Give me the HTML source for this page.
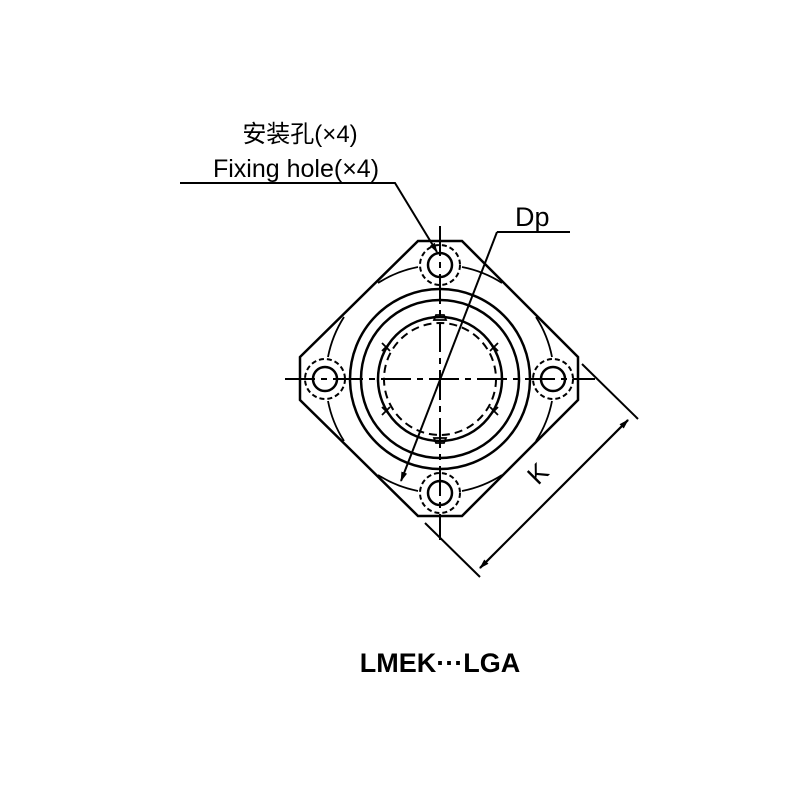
<!DOCTYPE html>
<html><head><meta charset="utf-8"><style>
html,body{margin:0;padding:0;background:#fff;}
svg{display:block;}
</style></head><body>
<svg width="800" height="800" viewBox="0 0 800 800" xmlns="http://www.w3.org/2000/svg">
<defs><marker id="ar" markerWidth="10" markerHeight="6" refX="9" refY="3" orient="auto" markerUnits="userSpaceOnUse"><path d="M0,0 L10,3 L0,6 z" fill="#000"/></marker></defs>
<g fill="none" stroke="#000" stroke-width="2.5">
<polygon points="418,241 462,241 578,357 578,400 462,516 418,516 300,400 300,357"/>
<circle cx="440" cy="379" r="90"/>
<circle cx="440" cy="379" r="79"/>
<circle cx="440" cy="379" r="62"/>
<circle cx="440" cy="379" r="56" stroke-dasharray="8,5" stroke-width="2"/>
<g stroke-width="1.8">
<path d="M378,283 A114,114 0 0 1 418,267"/><path d="M462,267 A114,114 0 0 1 502,283"/>
<path d="M536,317 A114,114 0 0 1 552,357"/><path d="M552,401 A114,114 0 0 1 536,441"/>
<path d="M502,475 A114,114 0 0 1 462,491"/><path d="M418,491 A114,114 0 0 1 378,475"/>
<path d="M344,441 A114,114 0 0 1 328,401"/><path d="M328,357 A114,114 0 0 1 344,317"/>
</g>
<g>
<circle cx="440" cy="265" r="12"/><circle cx="440" cy="265" r="20" stroke-dasharray="5,3" stroke-width="2"/>
<circle cx="325" cy="379" r="12"/><circle cx="325" cy="379" r="20" stroke-dasharray="5,3" stroke-width="2"/>
<circle cx="553" cy="379" r="12"/><circle cx="553" cy="379" r="20" stroke-dasharray="5,3" stroke-width="2"/>
<circle cx="440" cy="493" r="12"/><circle cx="440" cy="493" r="20" stroke-dasharray="5,3" stroke-width="2"/>
</g>
<g stroke-width="1.8">
<path d="M434,320 h12 l-2,-5 h-8 z"/><path d="M434,438 h12 l-2,5 h-8 z"/>
<path d="M382,343 l8,8 M390,343 l-8,8"/><path d="M490,343 l8,8 M498,343 l-8,8"/>
<path d="M382,407 l8,8 M390,407 l-8,8"/><path d="M490,407 l8,8 M498,407 l-8,8"/>
</g>
<g stroke-width="2">
<path d="M285,379 H595" stroke-dasharray="30,6,6,6"/>
<path d="M440,226 V540" stroke-dasharray="30,6,6,6"/>
</g>
<path d="M497,232 H570" stroke-width="2"/>
<path d="M497,232 L401,481" stroke-width="2" marker-end="url(#ar)"/>
<path d="M180,183 H395 L437,252" stroke-width="2" marker-end="url(#ar)"/>
<path d="M582,364 L638,419" stroke-width="2"/>
<path d="M425,523 L480,577" stroke-width="2"/>
<path d="M480,568 L628,420" stroke-width="2" marker-end="url(#ar)"/>
<path d="M628,420 L480,568" stroke-width="2" marker-end="url(#ar)"/>
</g>
<g font-family="Liberation Sans, 'Noto Sans CJK SC', sans-serif" fill="#000">
<text x="300" y="142" font-size="24" text-anchor="middle">安装孔(×4)</text>
<text x="296" y="177" font-size="25" text-anchor="middle">Fixing hole(×4)</text>
<text x="515" y="226" font-size="27">Dp</text>
<text x="0" y="0" font-size="26" transform="translate(538,486) rotate(-45)">K</text>
<text x="440" y="672" font-size="27" font-weight="bold" text-anchor="middle">LMEK···LGA</text>
</g>
</svg>
</body></html>
